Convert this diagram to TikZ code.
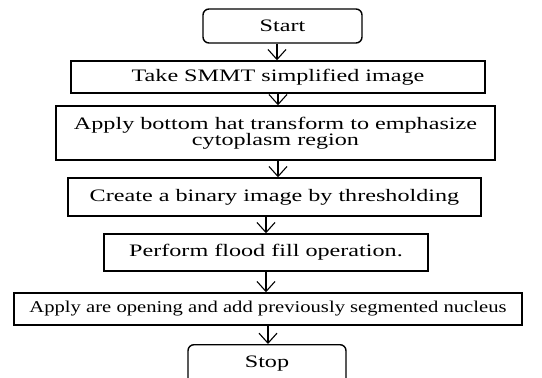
\documentclass[tikz,border=0pt]{standalone}
\usepackage{fontspec}
\setmainfont{Liberation Serif}[FakeStretch=1.38]
\newfontfamily\narrowserif{Liberation Serif}[FakeStretch=1.25]
\usetikzlibrary{arrows.meta}
\begin{document}
\begin{tikzpicture}[x=1pt,y=-1pt,
  box/.style={draw=black,line width=1.4pt,inner sep=0pt,align=center,
    font=\fontsize{17.5}{16.5}\selectfont},
  term/.style={box,rounded corners=6pt},
  arr/.style={line width=1.1pt,-{Straight Barb[length=10pt,width=18pt,line width=1.1pt]}}]
\useasboundingbox (0,0) rectangle (542,378);
\clip (0,0) rectangle (542,378);
\node[term,minimum width=159pt,minimum height=34pt] (start) at (282.5,26) {Start};
\node[box,minimum width=414pt,minimum height=32pt] (b2) at (278,77) {Take SMMT simplified image};
\node[box,minimum width=439pt,minimum height=54pt,font=\fontsize{17.5}{16.5}\selectfont] (b3) at (275.5,133) {Apply bottom hat transform to emphasize\\cytoplasm region};
\node[box,minimum width=413pt,minimum height=38pt] (b4) at (274.5,197) {Create a binary image by thresholding};
\node[box,minimum width=324pt,minimum height=37pt] (b5) at (266,252.5) {Perform flood fill operation.};
\node[box,minimum width=508pt,minimum height=32pt,font=\narrowserif\fontsize{16.5}{17}\selectfont] (b6) at (268,309) {Apply are opening and add previously segmented nucleus};
\node[term,minimum width=158pt,minimum height=40pt,anchor=north] (stop) at (267,344) {\raisebox{6pt}{Stop}};
\draw[arr] ([xshift=-5.5pt]start.south) -- ([xshift=-5.5pt]start.south |- b2.north);
\draw[arr] (b2.south) -- (b2.south |- b3.north);
\draw[arr] ([xshift=2.5pt]b3.south) -- ([xshift=2.5pt]b3.south |- b4.north);
\draw[arr] (b5.north |- b4.south) -- (b5.north);
\draw[arr] (b5.south) -- (b5.south |- b6.north);
\draw[arr] (b6.south) -- (b6.south |- stop.north);
\end{tikzpicture}
\end{document}
